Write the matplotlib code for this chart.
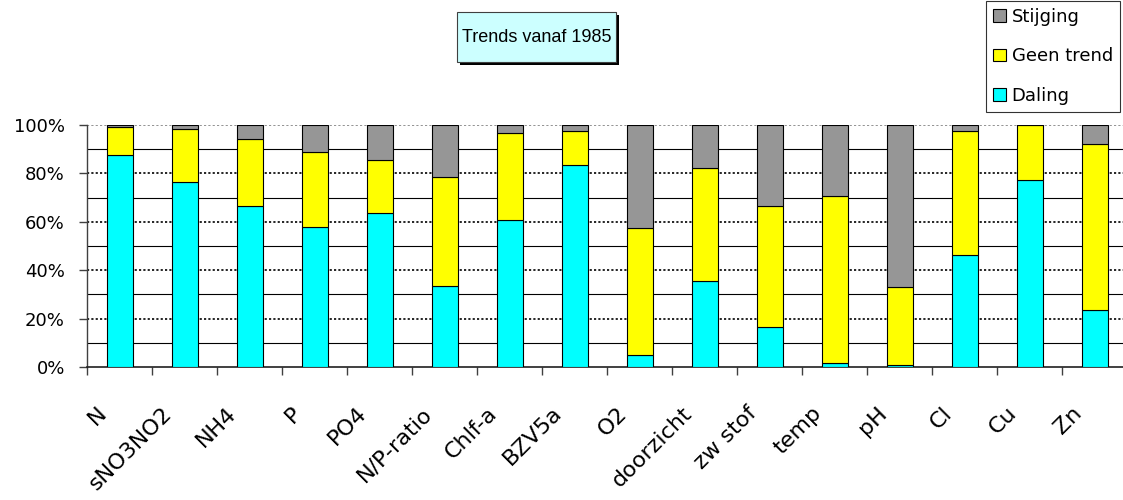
import matplotlib
matplotlib.use("Agg")
import matplotlib.pyplot as plt
from matplotlib.patches import Rectangle
from matplotlib.transforms import ScaledTranslation
from matplotlib.ticker import PercentFormatter
import numpy as np

categories = ["N", "sNO3NO2", "NH4", "P", "PO4", "N/P-ratio", "Chlf-a", "BZV5a",
              "O2", "doorzicht", "zw stof", "temp", "pH", "Cl", "Cu", "Zn"]
daling = [87.7, 76.3, 66.7, 58.0, 63.6, 33.6, 60.9, 83.6,
          5.1, 35.5, 16.5, 1.8, 0.7, 46.4, 77.4, 23.7]
geen_trend = [11.3, 22.0, 27.5, 31.0, 21.8, 44.8, 35.9, 13.8,
              52.5, 46.6, 50.0, 68.9, 32.5, 51.0, 22.6, 68.4]
stijging = [1.0, 1.7, 5.8, 11.0, 14.6, 21.6, 3.2, 2.6,
            42.4, 17.9, 33.5, 29.3, 66.8, 2.6, 0.0, 7.9]
series_names = ["Daling", "Geen trend", "Stijging"]
series_colors = ["#00FFFF", "#FFFF00", "#969696"]
title_text = "Trends vanaf 1985"

W, H = 1123, 500
fig = plt.figure(figsize=(W / 100, H / 100), dpi=100)
# plot area in pixel coordinates
left_px, right_px, top_px, bottom_px = 87, 1127, 125, 367
ax = fig.add_axes([left_px / W, 1 - bottom_px / H,
                   (right_px - left_px) / W, (bottom_px - top_px) / H])

x = np.arange(len(categories))
d = np.array(daling)
g = np.array(geen_trend)
s = np.array(stijging)
bw = 0.4
b1 = ax.bar(x, d, bw, color=series_colors[0], edgecolor="black", linewidth=0.8, zorder=3)
b2 = ax.bar(x, g, bw, bottom=d, color=series_colors[1], edgecolor="black", linewidth=0.8, zorder=3)
b3 = ax.bar(x, s, bw, bottom=d + g, color=series_colors[2], edgecolor="black", linewidth=0.8, zorder=3)

ax.set_xlim(-0.5, len(categories) - 0.5)
ax.set_ylim(0, 100)

# gridlines
for yv in [10, 30, 50, 70, 90]:
    ax.axhline(yv, color="black", linewidth=0.8, zorder=1)
for yv in [20, 40, 60, 80]:
    ax.axhline(yv, color="black", linewidth=1.2, linestyle=(0, (1.3, 1.3)), zorder=1)
ax.axhline(100, color="#808080", linewidth=1.2, linestyle=(0, (1.3, 1.3)), zorder=1)

for sp in ["top", "right"]:
    ax.spines[sp].set_visible(False)
ax.spines["left"].set_color("#404040")
ax.spines["bottom"].set_color("#202020")
ax.spines["left"].set_linewidth(1.0)
ax.spines["bottom"].set_linewidth(1.2)

ax.set_yticks(np.arange(0, 101, 20))
ax.yaxis.set_major_formatter(PercentFormatter(decimals=0))
ax.tick_params(axis="y", direction="out", length=6, width=1, color="#404040",
               labelsize=13, pad=10)

# category boundary ticks
ax.set_xticks(np.arange(len(categories) + 1) - 0.5)
ax.set_xticklabels([])
ax.tick_params(axis="x", which="major", direction="out", length=6, width=1, color="#404040")
# labels at centers
ax.set_xticks(x, minor=True)
ax.set_xticklabels(categories, minor=True, fontsize=16)
ax.tick_params(axis="x", which="minor", length=0, pad=31)
off = ScaledTranslation(-0.16, 0, fig.dpi_scale_trans)
for lab in ax.get_xticklabels(minor=True):
    lab.set_rotation(45)
    lab.set_rotation_mode("anchor")
    lab.set_ha("right")
    lab.set_va("center")
    lab.set_transform(lab.get_transform() + off)

# title box with shadow
bx0, by0, bx1, by1 = 457, 12, 616, 62
sh = 3
fig.patches.append(Rectangle(((bx0 + sh) / W, 1 - (by1 + sh) / H), (bx1 - bx0) / W, (by1 - by0) / H,
                             transform=fig.transFigure, facecolor="black", edgecolor="none", zorder=1))
fig.patches.append(Rectangle((bx0 / W, 1 - by1 / H), (bx1 - bx0) / W, (by1 - by0) / H,
                             transform=fig.transFigure, facecolor="#CCFFFF", edgecolor="#404040",
                             linewidth=0.8, zorder=2))
fig.text((bx0 + bx1) / 2 / W, 1 - (by0 + by1) / 2 / H, title_text, ha="center", va="center",
         fontsize=13, family="Liberation Sans", zorder=3)

# legend
leg = fig.legend([b3, b2, b1], series_names[::-1], loc="upper right",
                 bbox_to_anchor=(1120 / W, 1 - 0.5 / H), fontsize=13,
                 frameon=True, fancybox=False, shadow=False, edgecolor="black",
                 handlelength=0.7, handleheight=0.7, handletextpad=0.3,
                 labelspacing=1.2, borderpad=0.4, borderaxespad=0)
leg.get_frame().set_linewidth(0.8)

fig.savefig("out.png", dpi=100)
